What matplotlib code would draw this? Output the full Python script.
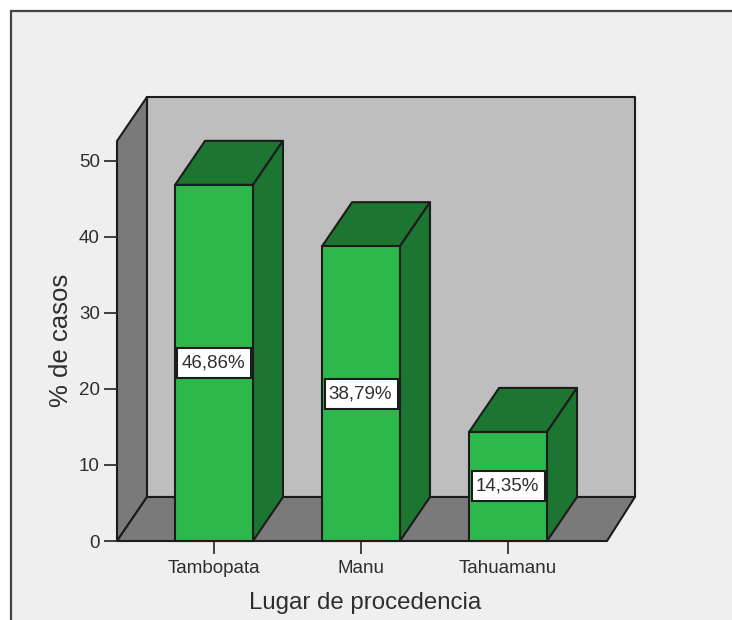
import matplotlib

matplotlib.use("Agg")
from matplotlib import pyplot as plt
from matplotlib.patches import Polygon, Rectangle

plt.rcParams['font.family'] = ['Liberation Sans', 'DejaVu Sans']

# Cases by place of origin
lugares = ['Tambopata', 'Manu', 'Tahuamanu']
porcentajes = [46.86, 38.79, 14.35]
etiquetas = ['46,86%', '38,79%', '14,35%']
y_ticks = [0, 10, 20, 30, 40, 50]

W, H = 732, 620
LINE = '#1c1c1c'
WALL = '#bebebe'
SIDE = '#7a7a7a'
GREEN = '#2db84b'
DARK_GREEN = '#1c7530'
TEXT = '#2e2e2e'

# depth of the fake 3D box, in data units
DX = 0.204
DY = 5.79
X_MIN, X_MAX = -0.66, 2.673
BACK_R = X_MAX + 0.19
Y_MAX = 52.63
BAR_W = 0.53
BOX_W = 0.497
BOX_H = 3.95
LW = 1.5

fig = plt.figure(figsize=(W / 100, H / 100), dpi=100, facecolor='white')

# grey panel, runs off the right and bottom edges
fig.add_artist(Rectangle((11 / W, -0.02), 1, 1 - 11 / H + 0.02, transform=fig.transFigure,
                         facecolor='#efefef', edgecolor='#444444', linewidth=1.6, zorder=-1))

ax = fig.add_axes([117 / W, 1 - 541 / H, 490 / W, 400 / H])
ax.set_xlim(X_MIN, X_MAX)
ax.set_ylim(0, Y_MAX)
ax.patch.set_visible(False)
for s in ax.spines.values():
    s.set_visible(False)


def poly(points, color, z):
    ax.add_patch(Polygon(points, closed=True, facecolor=color, edgecolor=LINE,
                         linewidth=LW, joinstyle='round', clip_on=False, zorder=z))


# walls and floor
poly([(X_MIN + DX, DY), (BACK_R, DY), (BACK_R, Y_MAX + DY), (X_MIN + DX, Y_MAX + DY)], WALL, 1)
poly([(X_MIN, 0), (X_MIN + DX, DY), (X_MIN + DX, Y_MAX + DY), (X_MIN, Y_MAX)], SIDE, 1.1)
poly([(X_MIN, 0), (X_MAX, 0), (BACK_R, DY), (X_MIN + DX, DY)], SIDE, 1.2)

# bars
for i, v in enumerate(porcentajes):
    l = i - BAR_W / 2
    r = i + BAR_W / 2
    z = 2 + i
    poly([(l, v), (r, v), (r + DX, v + DY), (l + DX, v + DY)], DARK_GREEN, z)
    poly([(r, 0), (r + DX, DY), (r + DX, v + DY), (r, v)], DARK_GREEN, z)
    ax.bar(i, v, width=BAR_W, color=GREEN, edgecolor=LINE, linewidth=LW, zorder=z + 0.1, clip_on=False)

    # value box, text sits to the left inside it
    ax.add_patch(Rectangle((i - BOX_W / 2, v / 2 - BOX_H / 2), BOX_W, BOX_H, facecolor='white',
                           edgecolor=LINE, linewidth=LW, zorder=z + 0.2))
    ax.text(i - BOX_W / 2 + 0.025, v / 2, etiquetas[i], ha='left', va='center', fontsize=13.5,
            color=TEXT, zorder=z + 0.3)

ax.set_xticks(range(len(lugares)))
ax.set_xticklabels(lugares)
ax.set_yticks(y_ticks)
ax.tick_params(axis='both', length=9.4, width=1.3, color='#333333', labelcolor=TEXT)
ax.tick_params(axis='x', labelsize=13.5, pad=4)
ax.tick_params(axis='y', labelsize=13.5, pad=3)

ax.set_xlabel('Lugar de procedencia', fontsize=17.3, color=TEXT, labelpad=11)
ax.xaxis.label.set_x((365.5 - 117) / 490)
ax.set_ylabel('% de casos', fontsize=18.5, color=TEXT)
ax.yaxis.set_label_coords((73 - 117) / 490, (541 - 340) / 400)

fig.savefig('out.png', dpi=100)
